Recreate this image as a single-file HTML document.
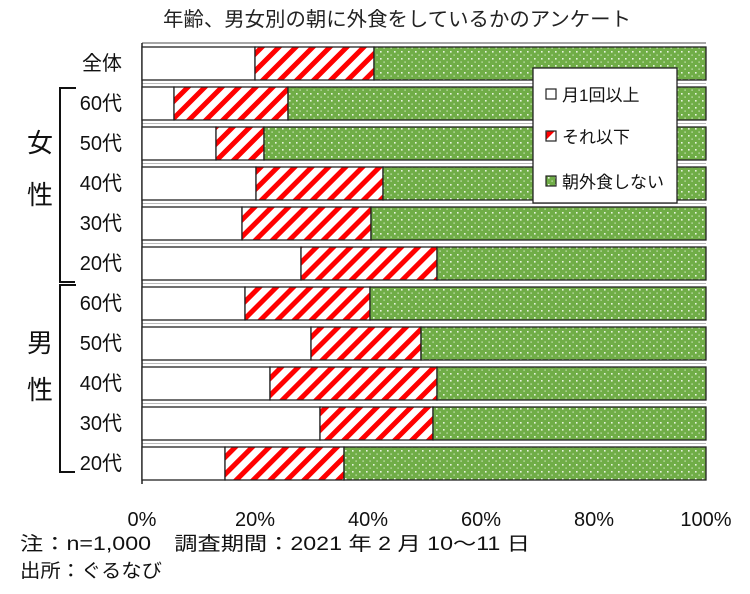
<!DOCTYPE html>
<html><head><meta charset="utf-8"><style>
html,body{margin:0;padding:0;background:#fff;}
svg{display:block;font-family:"Liberation Sans","Noto Sans CJK JP",sans-serif;}
</style></head><body>
<svg width="750" height="594" viewBox="0 0 750 594" xmlns="http://www.w3.org/2000/svg">
<defs>
<pattern id="hatch" patternUnits="userSpaceOnUse" width="12" height="12" patternTransform="rotate(45)">
<rect width="12" height="12" fill="#fff"/><rect width="5" height="12" fill="#f00"/>
</pattern>
<pattern id="dots" patternUnits="userSpaceOnUse" width="7" height="7">
<rect width="7" height="7" fill="#70ad47"/><rect x="2" y="2" width="1.6" height="1.6" fill="#e8f4e0"/><rect x="5.5" y="5.5" width="1.2" height="1.2" fill="#dcefd0"/>
</pattern>
</defs>
<text x="397" y="26" font-size="20" text-anchor="middle" fill="#222" textLength="468" lengthAdjust="spacingAndGlyphs">年齢、男女別の朝に外食をしているかのアンケート</text>
<line x1="142" y1="43" x2="706" y2="43" stroke="#888" stroke-width="1.5"/>
<g stroke="#bbb" stroke-width="1"><line x1="142" y1="83.5" x2="706" y2="83.5"/><line x1="142" y1="123.5" x2="706" y2="123.5"/><line x1="142" y1="163.5" x2="706" y2="163.5"/><line x1="142" y1="203.5" x2="706" y2="203.5"/><line x1="142" y1="243.5" x2="706" y2="243.5"/><line x1="142" y1="283.5" x2="706" y2="283.5"/><line x1="142" y1="323.5" x2="706" y2="323.5"/><line x1="142" y1="363.5" x2="706" y2="363.5"/><line x1="142" y1="403.5" x2="706" y2="403.5"/><line x1="142" y1="443.5" x2="706" y2="443.5"/></g>
<line x1="142" y1="43" x2="142" y2="484" stroke="#222" stroke-width="1.5"/>
<g stroke="#222" stroke-width="1.3">
<rect x="142" y="47" width="113" height="33" fill="#fff"/><rect x="255" y="47" width="119" height="33" fill="url(#hatch)"/><rect x="374" y="47" width="332" height="33" fill="url(#dots)"/>
<rect x="142" y="87" width="32" height="33" fill="#fff"/><rect x="174" y="87" width="114" height="33" fill="url(#hatch)"/><rect x="288" y="87" width="418" height="33" fill="url(#dots)"/>
<rect x="142" y="127" width="74" height="33" fill="#fff"/><rect x="216" y="127" width="48" height="33" fill="url(#hatch)"/><rect x="264" y="127" width="442" height="33" fill="url(#dots)"/>
<rect x="142" y="167" width="114" height="33" fill="#fff"/><rect x="256" y="167" width="127" height="33" fill="url(#hatch)"/><rect x="383" y="167" width="323" height="33" fill="url(#dots)"/>
<rect x="142" y="207" width="100" height="33" fill="#fff"/><rect x="242" y="207" width="129" height="33" fill="url(#hatch)"/><rect x="371" y="207" width="335" height="33" fill="url(#dots)"/>
<rect x="142" y="247" width="159" height="33" fill="#fff"/><rect x="301" y="247" width="136" height="33" fill="url(#hatch)"/><rect x="437" y="247" width="269" height="33" fill="url(#dots)"/>
<rect x="142" y="287" width="103" height="33" fill="#fff"/><rect x="245" y="287" width="125" height="33" fill="url(#hatch)"/><rect x="370" y="287" width="336" height="33" fill="url(#dots)"/>
<rect x="142" y="327" width="169" height="33" fill="#fff"/><rect x="311" y="327" width="110" height="33" fill="url(#hatch)"/><rect x="421" y="327" width="285" height="33" fill="url(#dots)"/>
<rect x="142" y="367" width="128" height="33" fill="#fff"/><rect x="270" y="367" width="167" height="33" fill="url(#hatch)"/><rect x="437" y="367" width="269" height="33" fill="url(#dots)"/>
<rect x="142" y="407" width="178" height="33" fill="#fff"/><rect x="320" y="407" width="113" height="33" fill="url(#hatch)"/><rect x="433" y="407" width="273" height="33" fill="url(#dots)"/>
<rect x="142" y="447" width="83" height="33" fill="#fff"/><rect x="225" y="447" width="119" height="33" fill="url(#hatch)"/><rect x="344" y="447" width="362" height="33" fill="url(#dots)"/>
</g>
<rect x="533" y="68" width="144" height="135" fill="#fff" stroke="#222" stroke-width="1.3"/>
<g font-size="17" fill="#111">
<rect x="546" y="89" width="10" height="10" fill="#fff" stroke="#222" stroke-width="1.2"/><text x="562" y="101">月1回以上</text>
<rect x="546" y="131" width="10" height="10" fill="url(#hatch)" stroke="#222" stroke-width="1.2"/><text x="562" y="143">それ以下</text>
<rect x="546" y="176" width="10" height="10" fill="url(#dots)" stroke="#222" stroke-width="1.2"/><text x="562" y="188">朝外食しない</text>
</g>
<g font-size="20" fill="#111" text-anchor="end">
<text x="122" y="70">全体</text>
<text x="122" y="110">60代</text><text x="122" y="150">50代</text><text x="122" y="190">40代</text><text x="122" y="230">30代</text><text x="122" y="270">20代</text>
<text x="122" y="310">60代</text><text x="122" y="350">50代</text><text x="122" y="390">40代</text><text x="122" y="430">30代</text><text x="122" y="470">20代</text>
</g>
<g font-size="26" fill="#111" text-anchor="middle">
<text x="40" y="152">女</text><text x="40" y="204">性</text>
<text x="40" y="352">男</text><text x="40" y="399">性</text>
</g>
<g stroke="#111" stroke-width="2" fill="none">
<polyline points="76,88 60,88 60,282 75,282"/>
<polyline points="76,285 60,285 60,472 75,472"/>
</g>
<g font-size="20" fill="#111" text-anchor="middle">
<text x="142" y="526">0%</text><text x="255" y="526">20%</text><text x="368" y="526">40%</text><text x="481" y="526">60%</text><text x="594" y="526">80%</text><text x="706" y="526">100%</text>
</g>
<g font-size="19" fill="#111">
<text x="20" y="550" textLength="510" lengthAdjust="spacingAndGlyphs">注：n=1,000　調査期間：2021 年 2 月 10～11 日</text>
<text x="20" y="577" textLength="142" lengthAdjust="spacingAndGlyphs">出所：ぐるなび</text>
</g>
</svg>
</body></html>
